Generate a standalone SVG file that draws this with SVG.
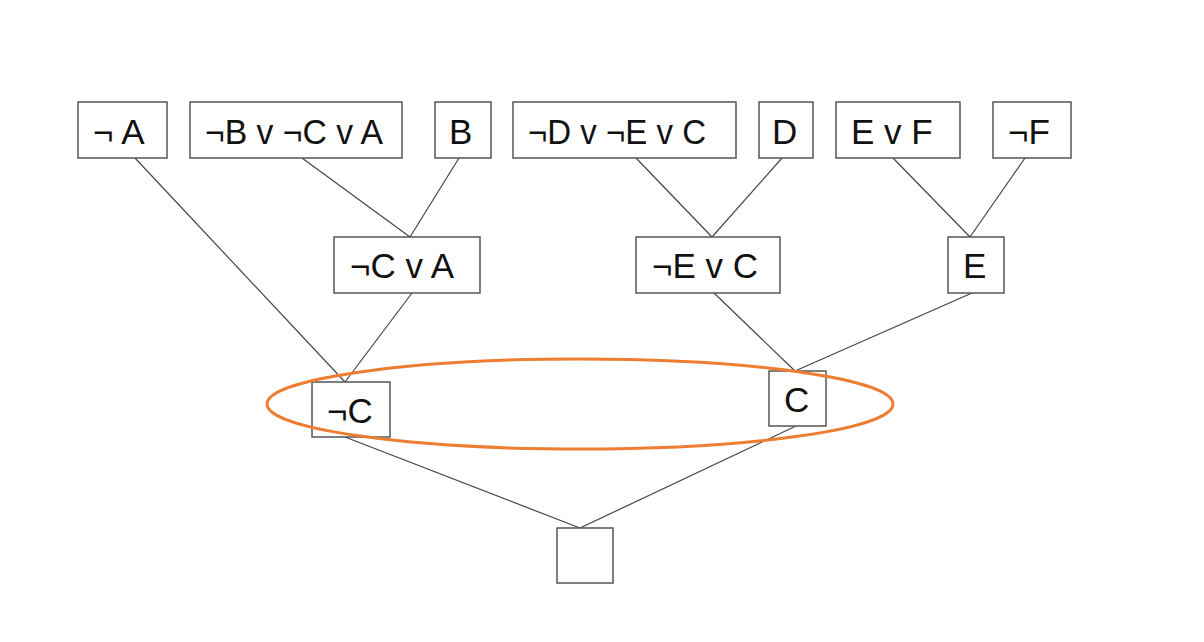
<svg xmlns="http://www.w3.org/2000/svg" width="1204" height="642" viewBox="0 0 1204 642">
<style>
.box{fill:#fff;stroke:#555;stroke-width:1.5}
.lbl{font-family:"Liberation Sans",Arial,sans-serif;font-size:35px;fill:#111}
.edge{stroke:#444;stroke-width:1.2;fill:none}
</style>
<rect width="1204" height="642" fill="#fff"/>
<g id="connectors">
<line class="edge" x1="135" y1="158" x2="345" y2="382"/>
<line class="edge" x1="302" y1="158" x2="410" y2="237"/>
<line class="edge" x1="459" y1="158" x2="410" y2="237"/>
<line class="edge" x1="412" y1="293" x2="345" y2="382"/>
<line class="edge" x1="636" y1="158" x2="712" y2="237"/>
<line class="edge" x1="782" y1="158" x2="712" y2="237"/>
<line class="edge" x1="714" y1="293" x2="795" y2="371"/>
<line class="edge" x1="893" y1="158" x2="970" y2="237"/>
<line class="edge" x1="1025" y1="158" x2="970" y2="237"/>
<line class="edge" x1="972" y1="293" x2="795" y2="371"/>
<line class="edge" x1="345" y1="437" x2="580" y2="528"/>
<line class="edge" x1="796" y1="426" x2="580" y2="528"/>
</g>
<g id="n1"><rect class="box" x="78" y="102" width="89" height="56"/><text class="lbl" x="93" y="144">¬ A</text></g>
<g id="n2"><rect class="box" x="190" y="102" width="212" height="56"/><text class="lbl" x="205" y="144" textLength="178" lengthAdjust="spacingAndGlyphs">¬B v ¬C v A</text></g>
<g id="n3"><rect class="box" x="435" y="102" width="56" height="56"/><text class="lbl" x="449" y="144">B</text></g>
<g id="n4"><rect class="box" x="513" y="102" width="223" height="56"/><text class="lbl" x="528" y="144" textLength="178" lengthAdjust="spacingAndGlyphs">¬D v ¬E v C</text></g>
<g id="n5"><rect class="box" x="759" y="102" width="54" height="56"/><text class="lbl" x="772" y="144">D</text></g>
<g id="n6"><rect class="box" x="836" y="102" width="124" height="56"/><text class="lbl" x="851" y="144">E v F</text></g>
<g id="n7"><rect class="box" x="993" y="102" width="78" height="56"/><text class="lbl" x="1008" y="144">¬F</text></g>
<g id="n8"><rect class="box" x="334" y="237" width="146" height="56"/><text class="lbl" x="350" y="278">¬C v A</text></g>
<g id="n9"><rect class="box" x="636" y="237" width="144" height="56"/><text class="lbl" x="652" y="278">¬E v C</text></g>
<g id="n10"><rect class="box" x="948" y="237" width="56" height="56"/><text class="lbl" x="963" y="278">E</text></g>
<g id="n11"><rect class="box" x="312" y="382" width="78" height="55"/><text class="lbl" x="327" y="423">¬C</text></g>
<g id="n12"><rect class="box" x="769" y="371" width="57" height="55"/><text class="lbl" x="784" y="412">C</text></g>
<g id="n13"><rect class="box" x="557" y="528" width="56" height="55"/></g>
<ellipse cx="580" cy="404" rx="313" ry="45" fill="none" stroke="#ED7D31" stroke-width="3"/>
</svg>
